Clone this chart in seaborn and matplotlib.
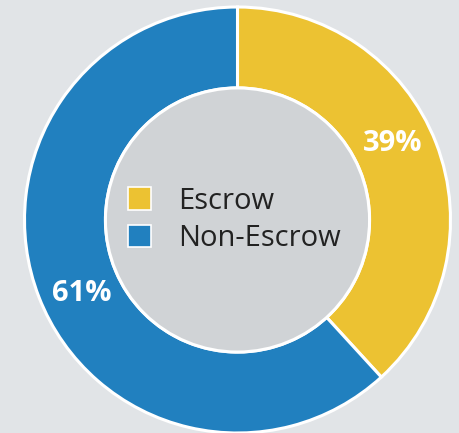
import matplotlib
matplotlib.use("Agg")
import numpy as np
import seaborn as sns
from matplotlib import pyplot as plt
from matplotlib.patches import Circle

# data
categories = ["Escrow", "Non-Escrow"]
shares = [38.2, 61.8]
pct_labels = ["39%", "61%"]
colors = ["#ECC232", "#2180BF"]

sns.set_theme(style="white")
plt.rcParams["font.family"] = ["Open Sans", "DejaVu Sans"]

bg = "#E1E4E7"
fig = plt.figure(figsize=(4.59, 4.33), dpi=100, facecolor=bg)
# square axes centred on the donut
r_px = 213 * 1.02
ax = fig.add_axes([(237.5 - r_px) / 459, (213 - r_px) / 433, 2 * r_px / 459, 2 * r_px / 433])
ax.set_facecolor(bg)

wedges, _ = ax.pie(
    shares, colors=colors, startangle=90, counterclock=False, radius=1.0,
    wedgeprops=dict(width=0.38, edgecolor="white", linewidth=2.2),
)

# percentage labels in the ring, nudged a little counter-clockwise like the original
nudges = [5, 4]
for w, lab, nd in zip(wedges, pct_labels, nudges):
    ang = np.deg2rad((w.theta1 + w.theta2) / 2 + nd)
    ax.text(0.81 * np.cos(ang), 0.81 * np.sin(ang), lab, ha="center", va="center",
            color="white", fontsize=21, fontweight="bold", zorder=4)

# inner grey disk
ax.add_patch(Circle((0, 0), 0.62, facecolor="#D0D3D6", edgecolor="white", linewidth=2.2, zorder=3))

ax.set_xlim(-1.02, 1.02)
ax.set_ylim(-1.02, 1.02)
ax.set_aspect("equal")
ax.axis("off")

leg = ax.legend(wedges, categories, loc="center", frameon=False, fontsize=21,
                handlelength=0.8, handleheight=0.8, handletextpad=0.95,
                labelspacing=0.3, labelcolor="#222222",
                bbox_to_anchor=(0.493, 0.5))
leg.set_zorder(5)
for h in leg.legend_handles:
    h.set_edgecolor("white")
    h.set_linewidth(1.2)

fig.savefig("out.png", dpi=100, facecolor=bg)
